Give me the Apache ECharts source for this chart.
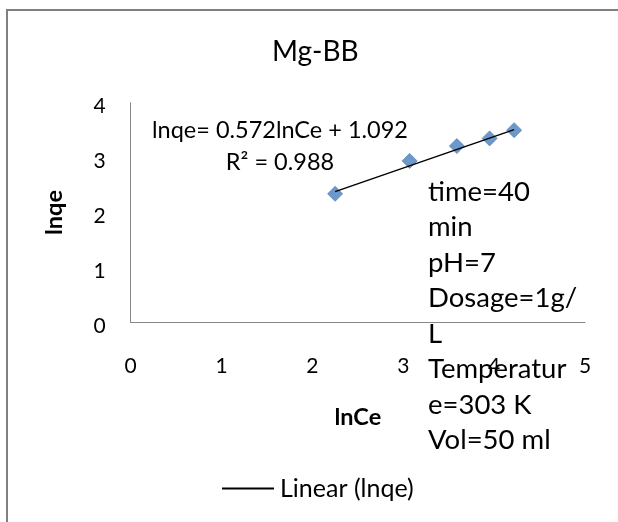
<!DOCTYPE html>
<html>
<head>
<meta charset="utf-8">
<script src="https://cdn.jsdelivr.net/npm/echarts@6/dist/echarts.min.js"></script>
<style>html,body{margin:0;padding:0;background:#fff}#c{width:618px;height:522px}</style>
</head>
<body>
<div id="c"></div>
<script>
// ---- data ----
const chartTitle = 'Mg-BB';
const xName = 'lnCe';
const yName = 'lnqe';
const lnCe = [2.25, 3.07, 3.59, 3.95, 4.22];
const lnqe = [2.34, 2.94, 3.21, 3.35, 3.50];
const trendX = [2.25, 4.22];
const trendY = [2.38, 3.51];
const trendName = 'Linear (lnqe)';
const equationLines = ['lnqe= 0.572lnCe + 1.092', 'R\u00b2 = 0.988'];
const noteLines = ['time=40', 'min', 'pH=7', 'Dosage=1g/', 'L', 'Temperatur', 'e=303 K', 'Vol=50 ml'];
const xTicks = [0, 1, 2, 3, 4, 5];
const yTicks = [0, 1, 2, 3, 4];

const FONT = 'Lato, "Open Sans", sans-serif';
const chart = echarts.init(document.getElementById('c'), null, {renderer: 'canvas'});

const option = {
  animation: false,
  backgroundColor: '#ffffff',
  title: {
    text: chartTitle,
    left: 272,
    top: 38,
    padding: 0,
    textStyle: {fontFamily: FONT, fontSize: 28, fontWeight: 'normal', color: '#000'}
  },
  grid: {left: 130.7, right: 33, top: 102.7, bottom: 199.7},
  xAxis: {
    type: 'value',
    min: xTicks[0], max: xTicks[xTicks.length - 1], interval: 1,
    axisLine: {show: true, lineStyle: {color: '#868686', width: 1}},
    axisTick: {show: false},
    splitLine: {show: false},
    axisLabel: {margin: 33, fontSize: 21, color: '#000', fontFamily: FONT},
    name: xName, nameLocation: 'middle', nameGap: 83,
    nameTextStyle: {fontFamily: FONT, fontWeight: 'bold', fontSize: 23.5, color: '#000'}
  },
  yAxis: {
    type: 'value',
    min: yTicks[0], max: yTicks[yTicks.length - 1], interval: 1,
    axisLine: {show: true, lineStyle: {color: '#868686', width: 1}},
    axisTick: {show: false},
    splitLine: {show: false},
    axisLabel: {margin: 25, fontSize: 21, color: '#000', fontFamily: FONT, verticalAlign: 'top', lineHeight: 8},
    name: yName, nameLocation: 'middle', nameGap: 64,
    nameTextStyle: {fontFamily: FONT, fontWeight: 'bold', fontSize: 23.5, color: '#000'}
  },
  legend: {
    data: [trendName],
    left: 222, top: 476, padding: 0,
    icon: 'rect', itemWidth: 52, itemHeight: 2,
    textStyle: {fontFamily: FONT, fontSize: 25, color: '#000', padding: [0, 0, 0, 1]}
  },
  series: [
    {
      name: yName,
      type: 'scatter',
      symbol: 'diamond',
      symbolSize: 15,
      itemStyle: {color: '#4a7ebb', borderColor: '#4175b0', borderWidth: 0.8},
      data: lnCe.map((x, i) => [x, lnqe[i]]),
      z: 2
    },
    {
      name: trendName,
      type: 'line',
      symbol: 'none',
      lineStyle: {color: '#000', width: 1.5},
      itemStyle: {color: '#000'},
      data: trendX.map((x, i) => [x, trendY[i]]),
      z: 3
    }
  ],
  graphic: [
    {
      type: 'polyline', silent: true,
      shape: {points: [[7, 530], [7, 10], [630, 10]]},
      style: {fill: 'none', stroke: '#808080', lineWidth: 2}
    },
    {
      type: 'text', silent: true,
      style: {
        x: 280, y: 115, text: equationLines.join('\n'),
        align: 'center', verticalAlign: 'top', lineHeight: 31.5,
        fontFamily: FONT, fontSize: 23.5, fill: '#000'
      }
    },
    {
      type: 'text', silent: true,
      style: {
        x: 428, y: 174, text: noteLines.join('\n'),
        align: 'left', verticalAlign: 'top', lineHeight: 35.5,
        fontFamily: FONT, fontSize: 27.5, fill: '#000'
      }
    }
  ]
};
chart.setOption(option);
</script>
</body>
</html>
